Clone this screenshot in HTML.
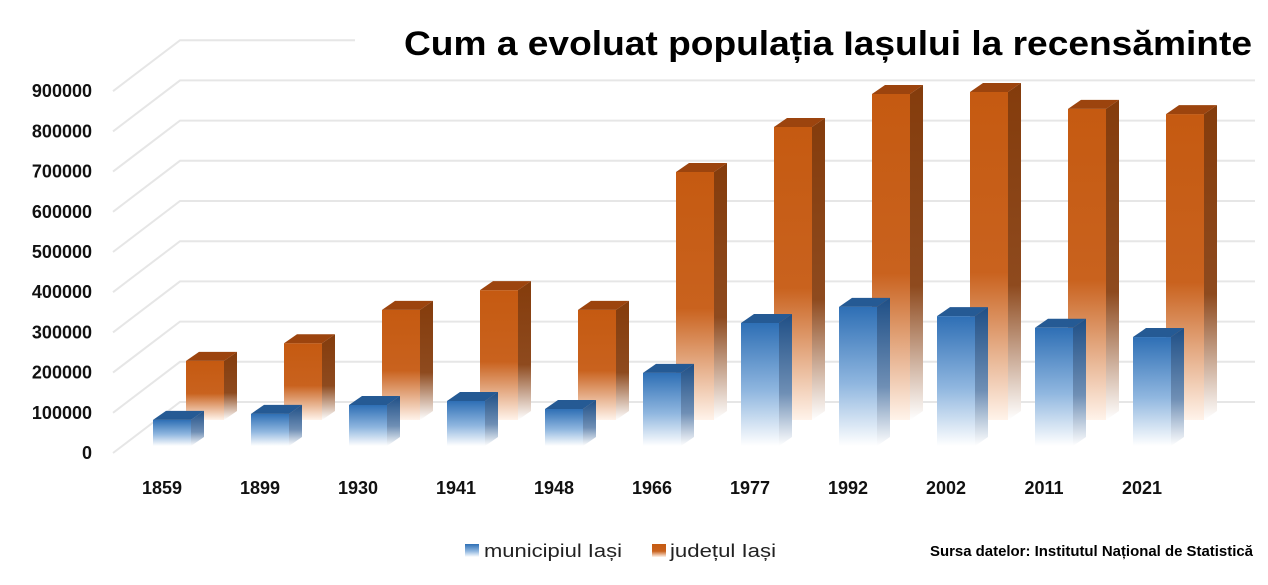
<!DOCTYPE html>
<html><head><meta charset="utf-8"><style>
html,body{margin:0;padding:0;background:#fff;width:1268px;height:585px;overflow:hidden}
svg{display:block;font-family:"Liberation Sans",sans-serif}
</style></head><body>
<svg id="chart" width="1268" height="585" viewBox="0 0 1268 585" xmlns="http://www.w3.org/2000/svg">
<defs>
<linearGradient id="gb" x1="0" y1="0" x2="0" y2="1"><stop offset="0" stop-color="#2e6fb5"/><stop offset="0.55" stop-color="#8fb6df"/><stop offset="1" stop-color="#ffffff"/></linearGradient>
<linearGradient id="gbs" x1="0" y1="0" x2="0" y2="1"><stop offset="0" stop-color="#1f4f86"/><stop offset="0.6" stop-color="#6f8fb5"/><stop offset="1" stop-color="#ffffff"/></linearGradient>
<linearGradient id="go" x1="0" y1="0" x2="0" y2="1"><stop offset="0" stop-color="#c55a11"/><stop offset="0.55" stop-color="#c9621e"/><stop offset="1" stop-color="#fff3ea"/></linearGradient>
<linearGradient id="gos" x1="0" y1="0" x2="0" y2="1"><stop offset="0" stop-color="#843c0c"/><stop offset="0.6" stop-color="#8e4a1e"/><stop offset="1" stop-color="#ffffff"/></linearGradient>
</defs>
<g id="grid"></g>
<g id="bars"></g>
<g id="labels"></g>
<text x="1252" y="55" text-anchor="end" font-size="34" font-weight="bold" fill="#000" textLength="848" lengthAdjust="spacingAndGlyphs">Cum a evoluat populația Iașului la recensăminte</text>
<rect x="465" y="544" width="14" height="13" fill="url(#gb)"/>
<text x="484" y="557" font-size="18" fill="#222" textLength="138" lengthAdjust="spacingAndGlyphs">municipiul Iași</text>
<rect x="652" y="544" width="14" height="13" fill="url(#go)"/>
<text x="670" y="557" font-size="18" fill="#222" textLength="106" lengthAdjust="spacingAndGlyphs">județul Iași</text>
<text x="1253" y="556" text-anchor="end" font-size="15" font-weight="bold" fill="#000" textLength="323" lengthAdjust="spacingAndGlyphs">Sursa datelor: Institutul Național de Statistică</text>
</svg>
<script>
const categories = ["1859","1899","1930","1941","1948","1966","1977","1992","2002","2011","2021"];
const municipiu = [65000,80000,102000,112000,92000,182000,306000,346000,323000,294000,271000];
const judet = [147000,191000,274000,323000,274000,617000,729000,811000,816000,774000,761000];
const yTicks = [0,100000,200000,300000,400000,500000,600000,700000,800000,900000];

const NS = "http://www.w3.org/2000/svg";
const PX = 40.2/100000;
function yBack(v){ return 402 - v*PX; }
function xCat(i){ return 153 + i*98; }
function mk(tag, attrs, parent){
  const e = document.createElementNS(NS, tag);
  for (const k in attrs) e.setAttribute(k, attrs[k]);
  parent.appendChild(e); return e;
}
const grid = document.getElementById('grid');
const labels = document.getElementById('labels');
const bars = document.getElementById('bars');
yTicks.forEach((t,k)=>{
  const y = yBack(t);
  const endX = (k === yTicks.length-1) ? 355 : 1255;
  const p = mk('path', {d:`M113 ${y+51} L180 ${y} L${endX} ${y}`, fill:'none', stroke:'#e6e6e6', 'stroke-width':2}, grid);
  
  
  const tx = mk('text', {x:92, y:y+51+6, 'text-anchor':'end', 'font-size':18, 'font-weight':'bold', fill:'#111'}, labels);
  
  
  tx.textContent = String(t);
});
function bar(x, base, v, front, side, top, name){
  const w = 38, dx = 13, dy = 9;
  const yt = base - v*PX;
  const g = mk('g', {}, bars);
  
  
  mk('path', {d:`M${x+w} ${yt} L${x+w+dx} ${yt-dy} L${x+w+dx} ${base-dy} L${x+w} ${base} Z`, fill:side}, g);
  mk('rect', {x:x, y:yt, width:w, height:base-yt, fill:front}, g);
  mk('path', {d:`M${x} ${yt} L${x+dx} ${yt-dy} L${x+w+dx} ${yt-dy} L${x+w} ${yt} Z`, fill:top}, g);
}
categories.forEach((c,i)=>{
  bar(xCat(i)+33, 420, judet[i], 'url(#go)', 'url(#gos)', '#9c440e', 'bar-judet-'+c);
});
categories.forEach((c,i)=>{
  bar(xCat(i), 446, municipiu[i], 'url(#gb)', 'url(#gbs)', '#255a94', 'bar-municipiu-'+c);
  const tx = mk('text', {x:xCat(i)+9, y:494, 'text-anchor':'middle', 'font-size':18, 'font-weight':'bold', fill:'#111'}, labels);
  
  
  tx.textContent = c;
});
</script>
</body></html>
